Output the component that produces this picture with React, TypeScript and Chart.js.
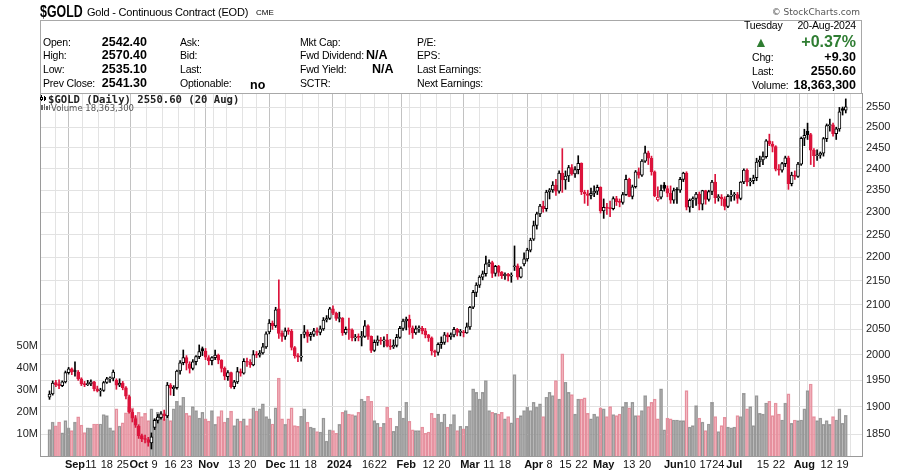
import React, { useEffect, useRef } from "react";
import { Chart, registerables } from "chart.js";

Chart.register(...registerables);

// ---- data ----
const START_DATE = "2023-08-22";
const HOLIDAYS = ["2023-09-04", "2023-11-23", "2023-12-25", "2024-01-01", "2024-01-15", "2024-02-19", "2024-03-29", "2024-05-27", "2024-06-19", "2024-07-04"];
const MONTH_LABELS = ["2024", "Feb", "Mar", "Apr", "May", "Jun", "Jul", "Aug", "Sep", "Oct", "Nov", "Dec"];

const OPEN = [1918,1924,1946,1943,1940,1947,1965,1972,1967,1966,1953,1943,1942,1943,1947,1934,1930,1931,1946,1953,1954,1950,1941,1945,1936,1919,1890,1878,1864,1847,1840,1840,1834,1862,1875,1880,1887,1883,1941,1934,1936,1968,1984,1994,1982,1973,1986,1996,2012,2007,1994,1988,1994,1999,1989,1973,1957,1965,1938,1947,1967,1964,1987,1985,1980,2000,1999,2003,2015,2045,2063,2057,2092,2042,2036,2047,2046,2014,1998,1995,2040,2045,2036,2040,2047,2044,2051,2069,2072,2092,2083,2072,2073,2043,2050,2049,2033,2035,2034,2036,2057,2036,2008,2024,2029,2027,2029,2017,2015,2018,2034,2052,2067,2071,2053,2043,2051,2052,2047,2039,2033,2007,2004,2020,2024,2039,2035,2039,2050,2044,2045,2043,2055,2095,2126,2141,2158,2165,2186,2189,2166,2181,2168,2161,2164,2160,2180,2182,2158,2186,2197,2216,2240,2270,2296,2314,2308,2346,2351,2362,2348,2390,2374,2383,2403,2388,2398,2413,2346,2342,2338,2343,2348,2357,2303,2311,2309,2308,2331,2324,2322,2340,2375,2336,2358,2393,2385,2418,2438,2425,2393,2328,2334,2362,2354,2343,2327,2352,2350,2375,2390,2311,2327,2331,2341,2318,2349,2329,2347,2369,2333,2334,2330,2313,2336,2339,2340,2331,2369,2397,2369,2372,2379,2416,2421,2429,2467,2459,2453,2399,2397,2412,2426,2365,2385,2382,2411,2473,2490,2482,2444,2431,2432,2437,2472,2504,2506,2484,2496,2546,2542.4];
const HIGH = [1930,1949,1950,1951,1949,1968,1975,1974,1986,1969,1955,1948,1950,1951,1948,1939,1935,1948,1956,1957,1970,1953,1953,1948,1938,1922,1895,1884,1867,1850,1848,1844,1852,1878,1886,1891,1894,1946,1944,1940,1970,1988,2009,1998,1986,1990,1998,2019,2015,2012,1998,1996,2009,2001,1990,1976,1969,1966,1950,1975,1972,1992,1993,1990,2008,2006,2008,2022,2045,2070,2067,2095,2152,2047,2053,2053,2050,2016,2002,2040,2058,2049,2044,2052,2053,2057,2074,2078,2095,2098,2085,2085,2074,2055,2073,2051,2040,2041,2046,2068,2059,2037,2029,2037,2034,2035,2040,2030,2029,2040,2056,2071,2075,2079,2057,2057,2057,2056,2052,2040,2035,2009,2023,2035,2044,2043,2043,2054,2052,2050,2048,2063,2097,2130,2146,2161,2171,2203,2195,2192,2183,2183,2170,2167,2166,2167,2225,2186,2180,2210,2220,2242,2280,2300,2318,2325,2350,2354,2370,2375,2395,2448,2395,2408,2410,2405,2431,2414,2350,2350,2355,2360,2362,2358,2330,2320,2325,2335,2336,2330,2345,2385,2378,2362,2396,2402,2422,2454,2442,2430,2395,2358,2362,2368,2360,2360,2355,2356,2380,2392,2393,2330,2335,2345,2346,2350,2350,2350,2373,2387,2340,2340,2335,2340,2350,2345,2345,2370,2400,2400,2378,2385,2425,2430,2440,2470,2483,2465,2455,2410,2415,2430,2430,2392,2395,2415,2476,2495,2510,2485,2448,2445,2440,2475,2508,2520,2510,2500,2549,2550,2570.4];
const LOW = [1914,1922,1938,1934,1938,1945,1962,1961,1958,1950,1940,1938,1940,1940,1930,1928,1920,1929,1944,1946,1949,1933,1938,1932,1915,1888,1872,1862,1842,1836,1834,1828,1823,1858,1870,1877,1875,1880,1922,1921,1933,1962,1980,1970,1964,1970,1980,1992,1998,1990,1980,1980,1990,1982,1966,1951,1950,1935,1934,1944,1958,1962,1977,1975,1978,1994,1995,2001,2012,2041,2050,2054,2032,2026,2030,2040,2009,1993,1986,1987,2033,2024,2028,2036,2038,2039,2048,2065,2070,2080,2068,2065,2038,2040,2030,2027,2027,2027,2017,2034,2030,2004,2006,2018,2020,2015,2015,2010,2012,2015,2032,2048,2049,2040,2032,2040,2044,2041,2033,2026,1999,1996,1999,2012,2020,2025,2030,2035,2037,2037,2035,2042,2050,2092,2117,2136,2152,2160,2180,2157,2160,2160,2155,2153,2150,2147,2172,2153,2156,2182,2192,2212,2237,2262,2290,2300,2302,2330,2345,2338,2343,2345,2352,2370,2385,2380,2388,2340,2320,2315,2330,2335,2340,2298,2286,2295,2290,2305,2315,2312,2318,2338,2335,2330,2355,2378,2382,2415,2410,2385,2335,2325,2330,2348,2335,2320,2320,2320,2345,2370,2305,2300,2310,2315,2305,2305,2318,2325,2340,2320,2325,2315,2305,2310,2325,2327,2320,2328,2365,2360,2360,2365,2372,2405,2410,2425,2455,2440,2395,2385,2392,2405,2352,2360,2375,2380,2408,2455,2470,2410,2405,2420,2425,2430,2465,2490,2478,2470,2490,2530,2535.1];
const CLOSE = [1924,1945,1942,1940,1947,1965,1972,1966,1967,1953,1943,1942,1943,1947,1934,1930,1932,1946,1953,1954,1966,1941,1945,1936,1920,1891,1879,1866,1847,1841,1840,1835,1845,1875,1881,1887,1883,1941,1935,1937,1968,1984,1994,1983,1973,1986,1996,2006,2007,1995,1988,1994,1999,1989,1973,1958,1965,1938,1947,1967,1964,1987,1985,1980,2000,1999,2003,2015,2041,2063,2057,2090,2042,2036,2047,2046,2014,1998,1995,1997,2045,2036,2040,2047,2044,2051,2069,2072,2092,2083,2072,2073,2043,2050,2049,2033,2035,2034,2036,2057,2036,2008,2024,2029,2027,2029,2017,2015,2018,2034,2052,2067,2071,2054,2043,2051,2052,2047,2039,2033,2007,2004,2020,2024,2039,2035,2039,2050,2044,2045,2043,2055,2095,2126,2141,2158,2165,2186,2189,2166,2181,2168,2161,2164,2160,2161,2182,2158,2177,2197,2216,2238,2270,2296,2314,2308,2346,2351,2362,2348,2390,2374,2383,2403,2388,2398,2413,2346,2342,2338,2343,2348,2357,2303,2311,2309,2308,2331,2324,2322,2340,2375,2336,2358,2393,2385,2418,2438,2425,2393,2337,2334,2350,2354,2343,2327,2349,2350,2375,2390,2311,2327,2331,2341,2318,2349,2329,2347,2369,2333,2334,2330,2313,2336,2339,2340,2331,2369,2397,2369,2372,2379,2416,2421,2429,2467,2459,2453,2399,2397,2412,2426,2365,2385,2382,2411,2473,2480,2482,2444,2431,2432,2437,2472,2504,2506,2484,2496,2538,2541.3,2550.6];
// volume, millions
const VOLUME = [12.0,15.3,13.6,15.3,10.5,16.0,12.7,11.5,15.3,17.7,14.0,10.6,12.8,12.6,14.5,14.5,14.5,18.8,18.3,12.8,11.5,21.3,13.5,15.0,19.5,22.1,21.8,17.8,19.8,17.8,19.3,16.0,21.3,16.8,19.8,17.8,16.8,19.8,16.0,21.3,24.8,22.8,26.6,19.3,18.3,22.4,20.6,17.2,19.8,16.8,15.8,20.6,14.3,17.8,20.6,15.3,17.2,20.3,13.8,16.8,15.7,16.8,13.8,16.8,21.8,20.3,21.3,23.6,17.8,16.8,14.5,21.8,35.3,16.8,14.3,16.8,21.8,13.8,13.4,18.0,21.3,15.3,13.1,12.6,11.0,10.8,17.2,6.7,11.8,11.5,10.3,14.3,19.8,20.6,19.0,18.7,18.3,19.8,25.8,24.8,27.0,24.8,16.0,14.8,13.1,14.8,22.1,17.2,11.2,13.4,20.3,17.2,24.3,15.7,11.8,11.5,11.5,13.1,10.3,10.8,19.3,17.2,19.0,15.3,19.0,13.1,14.3,18.7,11.5,13.4,12.3,13.4,20.6,30.4,28.8,25.8,28.8,34.1,20.6,19.8,19.3,19.0,19.8,16.8,17.8,15.0,36.8,17.2,18.3,20.6,22.1,20.6,24.3,22.1,23.6,17.8,26.6,28.8,27.3,34.1,25.8,46.2,33.4,28.8,27.8,19.0,25.8,25.8,26.3,19.3,16.8,19.0,17.8,21.8,21.3,17.8,22.4,18.7,18.3,19.0,22.4,24.3,21.8,24.3,18.3,18.3,20.6,27.3,22.4,24.3,25.8,16.8,30.4,11.8,17.2,16.8,16.3,16.3,16.0,16.0,29.6,13.1,13.8,22.8,17.2,15.3,11.5,14.5,24.3,17.8,11.0,13.8,17.5,13.1,12.8,13.1,18.3,17.8,28.4,21.3,22.4,13.8,27.3,19.3,19.0,24.0,24.8,18.3,23.9,19.0,16.3,23.9,28.1,14.8,16.3,16.0,16.3,21.3,29.6,32.6,17.8,16.0,17.2,14.3,16.0,14.3,17.8,16.3,21.3,14.8,18.36];

const PRICE_TICKS = [1850, 1900, 1950, 2000, 2050, 2100, 2150, 2200, 2250, 2300, 2350, 2400, 2450, 2500, 2550];
const VOLUME_TICKS = [10, 20, 30, 40, 50];

// ---- styles ----
const FONT = '"Liberation Sans", Arial, sans-serif';
const UP = "#000000";
const DOWN = "#dc143c";
const VOL_UP_FILL = "rgba(120,120,120,0.45)";
const VOL_UP_EDGE = "#a2a2a2";
const VOL_DN_FILL = "rgba(232,120,138,0.45)";
const VOL_DN_EDGE = "#e597a4";
const GREEN = "#2f7d32";

const W = 905;
const H = 472;

function tradingDays(start: string, count: number): Date[] {
  const out: Date[] = [];
  const hol = new Set(HOLIDAYS);
  const d = new Date(start + "T00:00:00Z");
  while (out.length < count) {
    const day = d.getUTCDay();
    const iso = d.toISOString().slice(0, 10);
    if (day !== 0 && day !== 6 && !hol.has(iso)) out.push(new Date(d.getTime()));
    d.setUTCDate(d.getUTCDate() + 1);
  }
  return out;
}

type P = { x: number; y: number; children: React.ReactNode; style?: React.CSSProperties; right?: boolean };
function T({ x, y, children, style, right }: P) {
  const base: React.CSSProperties = {
    position: "absolute",
    top: y,
    transform: "translateY(-50%)",
    whiteSpace: "nowrap",
    lineHeight: 1,
    fontFamily: FONT,
    fontSize: 10.5,
    letterSpacing: -0.2,
    color: "#000",
  };
  if (right) base.right = W - x;
  else base.left = x;
  return <span style={{ ...base, ...style }}>{children}</span>;
}

export default function App() {
  const ref = useRef<HTMLCanvasElement>(null);

  useEffect(() => {
    const canvas = ref.current;
    if (!canvas) return;
    const n = CLOSE.length;
    const dates = tradingDays(START_DATE, n);
    const idx = Array.from({ length: n }, (_, i) => i);

    const monthStarts: number[] = [];
    const weekStarts: number[] = [];
    for (let i = 1; i < n; i++) {
      if (dates[i].getUTCMonth() !== dates[i - 1].getUTCMonth()) monthStarts.push(i);
      if (dates[i].getUTCDay() <= dates[i - 1].getUTCDay()) weekStarts.push(i);
    }
    const monthSet = new Set(monthStarts);
    const distToMonth = (i: number) => Math.min(...monthStarts.map((m) => Math.abs(m - i)));
    const tickSet = new Set<number>(monthStarts);
    weekStarts.forEach((w) => {
      if (distToMonth(w) >= 2) tickSet.add(w);
    });
    const tickIdx = Array.from(tickSet).sort((a, b) => a - b);
    const labelFor = (i: number) => {
      if (monthSet.has(i)) return MONTH_LABELS[dates[i].getUTCMonth()];
      if (distToMonth(i) >= 5) return String(dates[i].getUTCDate());
      return "";
    };

    const isUp = (i: number) => i === 0 || CLOSE[i] >= CLOSE[i - 1];
    const col = (i: number) => (isUp(i) ? UP : DOWN);

    // plot area geometry: left 40, right 862 px, first bar 2.2 px in, 3.243 px per day
    const X_MIN = -0.68;
    const X_MAX = 252.79;
    const P_MAX = 2585.3;
    const P_MIN = 1810.5;
    const V_MAX = 164.3;

    const chart = new Chart(canvas, {
      type: "bar",
      data: {
        datasets: [
          {
            label: "Volume",
            yAxisID: "vol",
            data: idx.map((i) => ({ x: i, y: VOLUME[i] })),
            backgroundColor: idx.map((i) => (isUp(i) ? VOL_UP_FILL : VOL_DN_FILL)),
            borderColor: idx.map((i) => (isUp(i) ? VOL_UP_EDGE : VOL_DN_EDGE)),
            borderWidth: 0.8,
            barThickness: 3.1,
            grouped: false,
            order: 3,
          } as any,
          {
            label: "Range",
            yAxisID: "price",
            data: idx.map((i) => ({ x: i, y: [LOW[i], HIGH[i]] })),
            backgroundColor: idx.map(col),
            borderWidth: 0,
            barThickness: 1,
            grouped: false,
            order: 2,
          } as any,
          {
            label: "Body",
            yAxisID: "price",
            data: idx.map((i) => ({ x: i, y: [Math.min(OPEN[i], CLOSE[i]), Math.max(OPEN[i], CLOSE[i])] })),
            backgroundColor: idx.map((i) => (CLOSE[i] > OPEN[i] ? "#ffffff" : col(i))),
            borderColor: idx.map(col),
            borderWidth: 1,
            borderSkipped: false,
            barThickness: 3,
            minBarLength: 1,
            grouped: false,
            order: 1,
          } as any,
        ],
      },
      options: {
        responsive: false,
        animation: false,
        layout: { padding: { top: 93, left: 0, right: 0, bottom: 0 } },
        plugins: { legend: { display: false }, tooltip: { enabled: false } },
        scales: {
          x: {
            type: "linear",
            min: X_MIN,
            max: X_MAX,
            afterBuildTicks: (s: any) => {
              s.ticks = tickIdx.map((v) => ({ value: v }));
            },
            afterFit: (s: any) => {
              s.height = 16;
            },
            ticks: {
              autoSkip: false,
              maxRotation: 0,
              padding: 2,
              color: "#111",
              font: (ctx: any) => ({
                family: FONT,
                size: 11,
                weight: ctx.tick && monthSet.has(ctx.tick.value) ? "bold" : "normal",
              }),
              callback: (v: any) => labelFor(Number(v)),
            },
            grid: {
              drawTicks: false,
              color: (ctx: any) => (ctx.tick && monthSet.has(ctx.tick.value) ? "#c2c2c2" : "#e3e3e3"),
              lineWidth: 1,
            },
            border: { display: true, color: "#9a9a9a" },
          },
          price: {
            type: "logarithmic",
            position: "right",
            min: P_MIN,
            max: P_MAX,
            afterBuildTicks: (s: any) => {
              s.ticks = PRICE_TICKS.map((v) => ({ value: v }));
            },
            afterFit: (s: any) => {
              s.width = W - 862;
            },
            ticks: {
              padding: 4,
              color: "#222",
              font: { family: FONT, size: 11 },
              callback: (v: any) => String(v),
            },
            grid: { drawTicks: false, color: "#e2e2e2" },
            border: { display: true, color: "#9a9a9a" },
          },
          vol: {
            type: "linear",
            position: "left",
            min: 0,
            max: V_MAX,
            afterBuildTicks: (s: any) => {
              s.ticks = VOLUME_TICKS.map((v) => ({ value: v }));
            },
            afterFit: (s: any) => {
              s.width = 40;
            },
            ticks: {
              padding: 2,
              color: "#222",
              font: { family: FONT, size: 11 },
              callback: (v: any) => v + "M",
            },
            grid: { display: false, drawTicks: false },
            border: { display: true, color: "#9a9a9a" },
          },
        },
      } as any,
    });
    return () => chart.destroy();
  }, []);

  const rowsY = [41.5, 55.3, 69, 83];
  const bold: React.CSSProperties = { fontWeight: "bold", fontSize: 12.5, letterSpacing: 0 };

  return (
    <div style={{ position: "fixed", left: 0, top: 0, width: W, height: H, background: "#fff", overflow: "hidden" }}>
      <canvas ref={ref} width={W} height={H} style={{ position: "absolute", left: 0, top: 0, width: W, height: H }} />

      {/* title line */}
      <span
        style={{
          position: "absolute",
          left: 40,
          top: 3,
          fontFamily: FONT,
          fontWeight: "bold",
          fontSize: 16.5,
          lineHeight: 1,
          transform: "scaleX(0.75)",
          transformOrigin: "left top",
          whiteSpace: "nowrap",
        }}
      >
        $GOLD
      </span>
      <T x={87} y={12} style={{ fontSize: 11 }}>Gold - Continuous Contract (EOD)</T>
      <T x={256} y={12.5} style={{ fontSize: 8, letterSpacing: 0 }}>CME</T>
      <T x={860} y={11.5} right style={{ fontFamily: '"DejaVu Sans", sans-serif', fontSize: 9, color: "#555", letterSpacing: 0 }}>
        © StockCharts.com
      </T>

      {/* info box */}
      <div
        style={{
          position: "absolute",
          left: 40,
          top: 20,
          width: 822,
          height: 74,
          border: "1px solid #a8a8a8",
          boxSizing: "border-box",
        }}
      />
      {["Open:", "High:", "Low:", "Prev Close:"].map((t, k) => (
        <T key={"a" + k} x={43} y={rowsY[k]}>{t}</T>
      ))}
      {["2542.40", "2570.40", "2535.10", "2541.30"].map((t, k) => (
        <T key={"b" + k} x={147} y={rowsY[k]} right style={bold}>{t}</T>
      ))}
      {["Ask:", "Bid:", "Last:", "Optionable:"].map((t, k) => (
        <T key={"c" + k} x={180} y={rowsY[k]}>{t}</T>
      ))}
      <T x={250} y={rowsY[3] + 1.5} style={bold}>no</T>
      {["Mkt Cap:", "Fwd Dividend:", "Fwd Yield:", "SCTR:"].map((t, k) => (
        <T key={"d" + k} x={300} y={rowsY[k]}>{t}</T>
      ))}
      <T x={366} y={rowsY[1]} style={bold}>N/A</T>
      <T x={372} y={rowsY[2]} style={bold}>N/A</T>
      {["P/E:", "EPS:", "Last Earnings:", "Next Earnings:"].map((t, k) => (
        <T key={"e" + k} x={417} y={rowsY[k]}>{t}</T>
      ))}

      <T x={744} y={25}>Tuesday</T>
      <T x={856} y={25} right>20-Aug-2024</T>
      <T x={754} y={42} style={{ fontSize: 14, color: GREEN, letterSpacing: 0 }}>▲</T>
      <T x={856} y={41.5} right style={{ fontWeight: "bold", fontSize: 16, color: GREEN, letterSpacing: 0 }}>+0.37%</T>
      <T x={752} y={57}>Chg:</T>
      <T x={856} y={57} right style={bold}>+9.30</T>
      <T x={752} y={70.5}>Last:</T>
      <T x={856} y={70.5} right style={bold}>2550.60</T>
      <T x={752} y={84.5}>Volume:</T>
      <T x={856} y={84.5} right style={bold}>18,363,300</T>

      {/* legend inside the plot */}
      <div style={{ position: "absolute", left: 41, top: 95, width: 1, height: 6, background: "#000" }} />
      <div style={{ position: "absolute", left: 40, top: 96.5, width: 3, height: 3, border: "1px solid #000", boxSizing: "border-box", background: "#fff" }} />
      <div style={{ position: "absolute", left: 44, top: 95.5, width: 1, height: 5, background: "#000" }} />
      <div style={{ position: "absolute", left: 43.5, top: 97, width: 2.5, height: 2.5, background: "#000" }} />
      <T x={48} y={98.5} style={{ fontFamily: '"DejaVu Sans Mono", monospace', fontSize: 10.6, fontWeight: "bold", color: "#222", letterSpacing: 0 }}>
        $GOLD (Daily) 2550.60 (20 Aug)
      </T>
      <div style={{ position: "absolute", left: 41, top: 105, width: 1.5, height: 5, background: "#666" }} />
      <div style={{ position: "absolute", left: 43.5, top: 103.5, width: 1.5, height: 6.5, background: "#666" }} />
      <div style={{ position: "absolute", left: 46, top: 106, width: 1.5, height: 4, background: "#666" }} />
      <div style={{ position: "absolute", left: 48.5, top: 104.5, width: 1.5, height: 5.5, background: "#666" }} />
      <T x={51} y={107.5} style={{ fontFamily: '"DejaVu Sans", sans-serif', fontSize: 8.5, color: "#555", letterSpacing: 0 }}>
        Volume 18,363,300
      </T>
    </div>
  );
}
